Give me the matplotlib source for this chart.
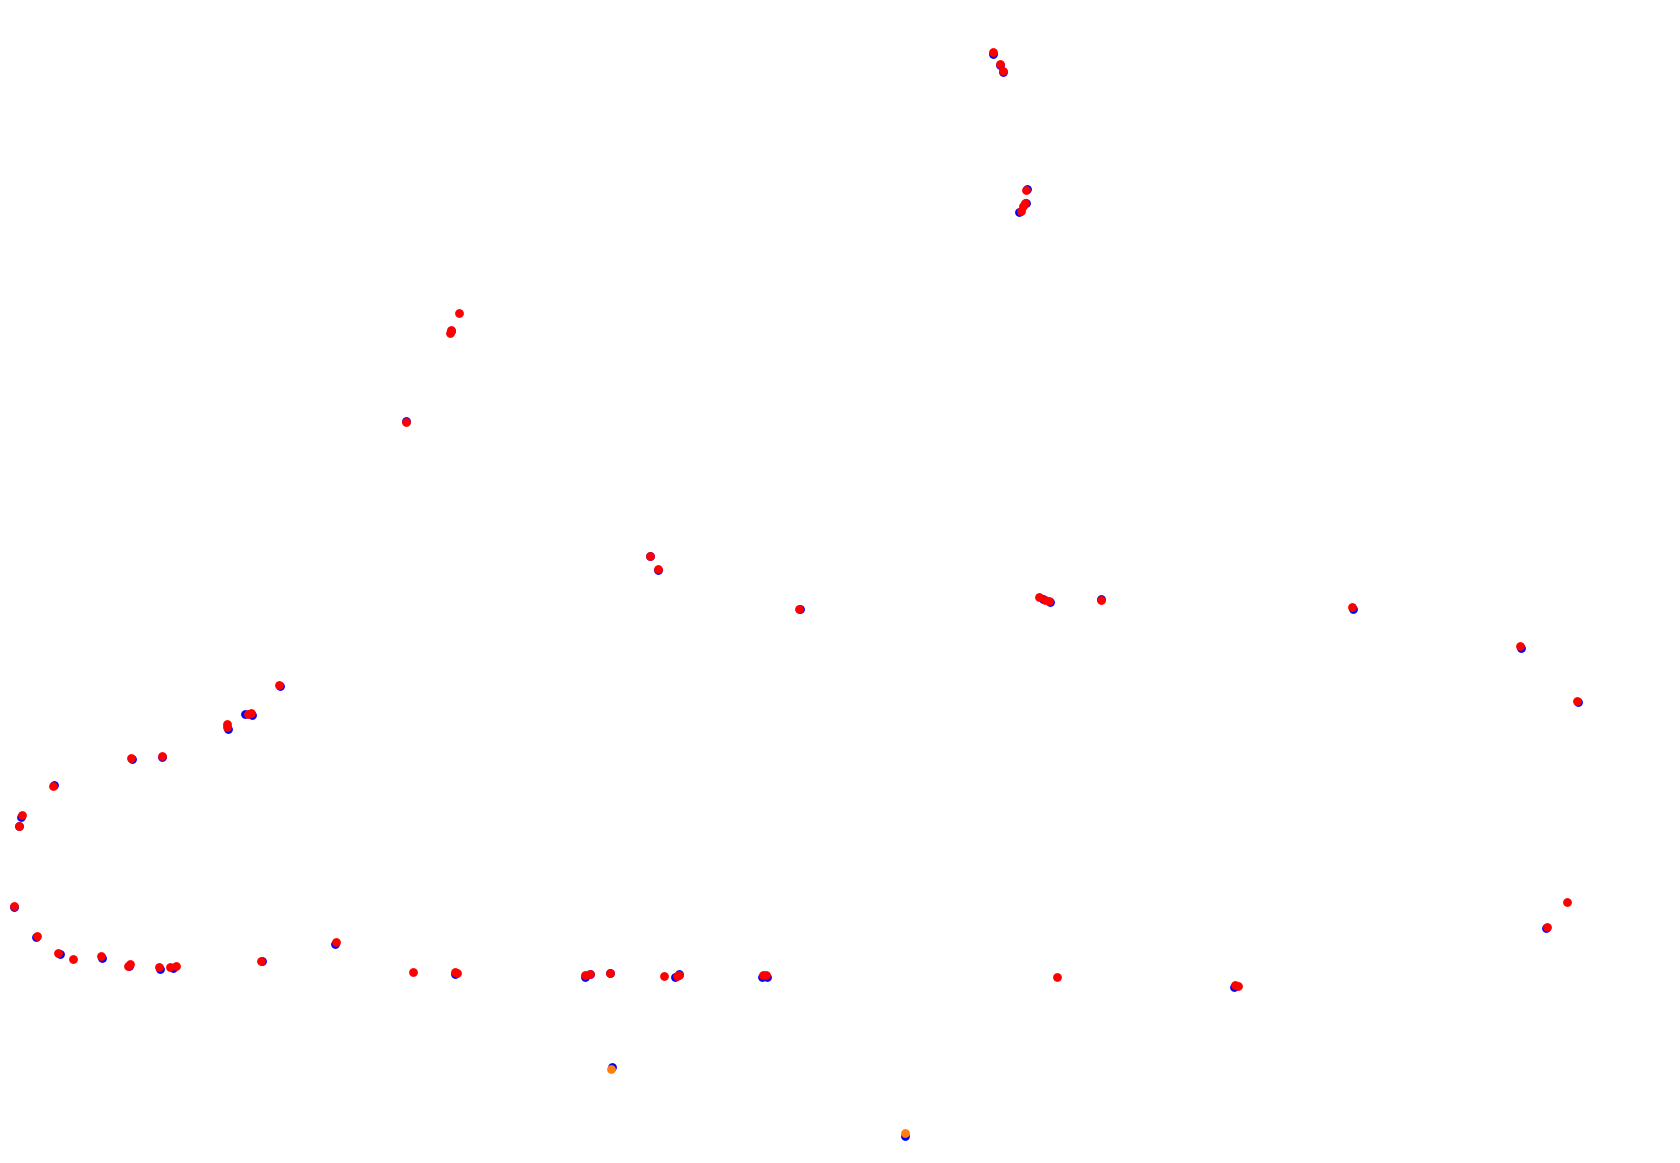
import matplotlib
matplotlib.use("Agg")
import matplotlib.pyplot as plt

# Blue series (drawn underneath)
blue_x = [992.7, 999.7, 1003.0, 1027.0, 1025.7, 1019.3, 450.7, 405.7,
          650.0, 658.3, 800.0, 1043.3, 1049.7, 1101.0, 1352.7, 1521.0, 1577.7,
          279.7, 251.7, 245.0, 228.0, 131.7, 162.3,
          54.0, 20.7, 18.7, 13.7, 36.0, 60.0, 102.0, 129.3, 160.0, 173.3, 262.0, 335.0,
          455.3, 585.3, 590.0, 609.7, 675.3, 679.3, 762.0, 767.3,
          1234.3, 1545.7, 611.7, 905.0]
blue_y = [55.3, 66.3, 73.3, 190.0, 203.7, 213.0, 332.0, 422.3,
          557.3, 571.3, 609.7, 600.0, 603.3, 600.0, 610.0, 648.7, 703.3,
          687.3, 716.0, 715.3, 730.0, 760.0, 758.3,
          785.7, 817.7, 826.7, 908.0, 938.0, 955.3, 959.0, 967.3, 969.7, 968.7, 961.7, 945.0,
          975.0, 977.7, 974.7, 973.7, 977.7, 974.7, 977.7, 977.7,
          988.0, 928.7, 1068.3, 1136.7]

# Red series
red_x = [992.7, 999.7, 1003.0, 1026.3, 1025.3, 1022.7, 1020.7, 459.0, 450.7, 450.0, 405.7,
         650.0, 658.0, 799.3, 1039.0, 1045.0, 1049.0, 1100.7, 1352.0, 1520.3, 1577.3,
         279.0, 250.7, 247.7, 227.0, 227.0, 130.7, 161.7,
         52.7, 21.7, 19.0, 13.7, 37.3, 58.3, 72.7, 101.0, 130.3, 128.3, 159.3, 170.0, 175.7,
         261.3, 336.0,
         413.0, 455.3, 456.7, 585.3, 590.0, 609.7, 663.7, 676.7, 679.3, 763.3, 766.0,
         1057.0, 1234.7, 1238.3, 1546.7, 1567.0]
red_y = [53.3, 64.7, 72.0, 191.3, 204.0, 207.3, 211.7, 314.0, 331.3, 334.3, 423.3,
         557.3, 570.3, 609.7, 598.3, 600.7, 602.0, 600.7, 607.7, 646.7, 702.0,
         686.3, 714.3, 715.0, 725.0, 727.7, 758.7, 757.3,
         786.7, 816.0, 826.7, 907.0, 936.7, 954.0, 960.0, 957.0, 965.0, 967.0, 967.7, 967.7, 966.7,
         961.7, 943.3,
         972.7, 973.0, 973.7, 976.0, 975.0, 974.3, 976.7, 976.7, 976.0, 976.0, 976.0,
         978.0, 986.3, 987.0, 927.7, 902.7]

# Orange series
orange_x = [610.7, 905.0]
orange_y = [1070.0, 1134.0]

fig = plt.figure(figsize=(16.8, 11.63), dpi=100)
ax = fig.add_axes([0, 0, 1, 1])
ax.scatter(blue_x, blue_y, s=40, color="#0000ff", linewidths=0, zorder=1)
ax.scatter(red_x, red_y, s=40, color="#ff0000", linewidths=0, zorder=2)
ax.scatter(orange_x, orange_y, s=40, color="#ff7f0e", linewidths=0, zorder=3)
ax.set_xlim(0, 1680)
ax.set_ylim(1164, 1)
ax.axis("off")
fig.savefig("out.png", dpi=100, facecolor="white")
